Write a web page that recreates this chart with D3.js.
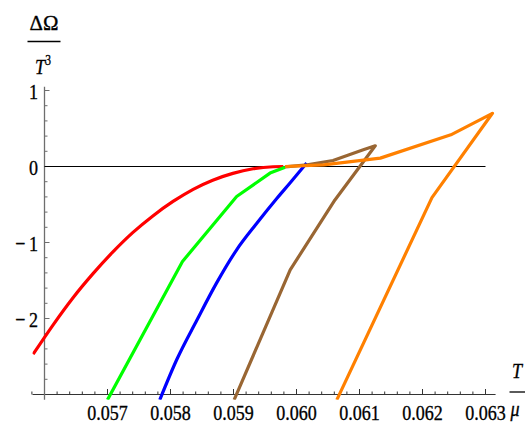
<!DOCTYPE html>
<html>
<head>
<meta charset="utf-8">
<script src="https://cdn.jsdelivr.net/npm/d3@7"></script>
<style>
  body { margin: 0; background: #fff; }
  svg text { font-family: "Liberation Serif", "Times New Roman", serif; fill: #000; stroke: #000; stroke-width: 0.35px; }
</style>
</head>
<body>
<div id="chart"></div>
<script>
// data (T/mu, dOmega/T^3)
var xTicks = [0.057, 0.058, 0.059, 0.060, 0.061, 0.062, 0.063];
var xTickLabels = ["0.057", "0.058", "0.059", "0.060", "0.061", "0.062", "0.063"];
var yTicks = [-2, -1, 0, 1];
var yTickLabels = ["\u2212\u20092", "\u2212\u20091", "0", "1"];

var redT = [0.05582, 0.05614, 0.05645, 0.05677, 0.05709, 0.05740, 0.05772, 0.05804, 0.05836, 0.05867, 0.05899, 0.05931, 0.05963, 0.05979];
var redY = [-2.47, -2.08, -1.73, -1.41, -1.12, -0.87, -0.65, -0.46, -0.30, -0.18, -0.09, -0.03, -0.003, 0.0];

var greenT = [0.05700, 0.05819, 0.05905, 0.05958, 0.05982];
var greenY = [-3.07, -1.25, -0.395, -0.087, -0.01];

var blueT = [0.05783, 0.05810, 0.05842, 0.05873, 0.05905, 0.05937, 0.05969, 0.05990, 0.06016];
var blueY = [-3.07, -2.54, -2.02, -1.535, -1.096, -0.747, -0.418, -0.214, 0.045];

var brownT = [0.05901, 0.05990, 0.06061, 0.06125, 0.06106, 0.06058, 0.06017, 0.05982];
var brownY = [-3.07, -1.36, -0.44, 0.272, 0.22, 0.079, 0.022, -0.004];

var orangeT = [0.06064, 0.06215, 0.06311, 0.06245, 0.06133, 0.06043, 0.05982];
var orangeY = [-3.07, -0.41, 0.70, 0.417, 0.11, 0.022, 0.0];

var series = [
  {t: redT, y: redY, color: "#ff0000", smooth: true},
  {t: greenT, y: greenY, color: "#00ff00", smooth: false},
  {t: blueT, y: blueY, color: "#0000ff", smooth: true},
  {t: brownT, y: brownY, color: "#996633", smooth: false},
  {t: orangeT, y: orangeY, color: "#ff8000", smooth: false}
];

var W = 527, H = 423;

var x = d3.scaleLinear().domain([0.056, 0.063]).range([44.5, 485.5]);
var y = d3.scaleLinear().domain([-3, 1]).range([394.5, 90.5]);

// plot range is a bit wider than the axes
var xMin = 0.05581, xMax = 0.06316;
var yMin = -3.07, yMax = 1.05;

// the picture's text is a little taller than it is wide
var squeeze = 0.82;

var svg = d3.select("#chart").append("svg")
  .attr("width", W)
  .attr("height", H);

svg.append("defs").append("clipPath")
  .attr("id", "clip")
  .append("rect")
  .attr("x", x(xMin))
  .attr("y", y(yMax))
  .attr("width", x(xMax) - x(xMin))
  .attr("height", y(yMin) - y(yMax));

// axes
var axisColor = "#6e6e6e";

svg.append("line")
  .attr("x1", x(xMin)).attr("x2", x(xMax))
  .attr("y1", y(-3)).attr("y2", y(-3))
  .attr("stroke", "#333").attr("stroke-width", 1);

svg.append("line")
  .attr("x1", x(0.056)).attr("x2", x(0.056))
  .attr("y1", y(yMin)).attr("y2", y(yMax))
  .attr("stroke", axisColor).attr("stroke-width", 1.3);

// x ticks (pointing up)
var xMinor = d3.range(0, 37).map(function(i) { return 0.0558 + i * 0.0002; })
  .filter(function(v) { return v <= xMax && Math.abs(v - 0.056) > 1e-7; });

svg.append("g").selectAll("line")
  .data(xMinor)
  .enter().append("line")
  .attr("x1", function(d) { return x(d); })
  .attr("x2", function(d) { return x(d); })
  .attr("y1", y(-3))
  .attr("y2", function(d) {
    var major = xTicks.some(function(t) { return Math.abs(t - d) < 1e-7; });
    return y(-3) - (major ? 5.5 : 3);
  })
  .attr("stroke", "#333");

svg.append("g").selectAll("text")
  .data(xTicks)
  .enter().append("text")
  .text(function(d, i) { return xTickLabels[i]; })
  .attr("transform", function(d) { return "translate(" + x(d) + ",420) scale(" + squeeze + ",1)"; })
  .attr("text-anchor", "middle")
  .style("font-size", "22px");

// y ticks (pointing right)
var yMinor = d3.range(0, 21).map(function(i) { return -3 + i * 0.2; })
  .filter(function(v) { return v > -2.99; });

svg.append("g").selectAll("line")
  .data(yMinor)
  .enter().append("line")
  .attr("x1", x(0.056))
  .attr("x2", function(d) {
    var major = Math.abs(d - Math.round(d)) < 1e-6;
    return x(0.056) + (major ? 5 : 3);
  })
  .attr("y1", function(d) { return y(d); })
  .attr("y2", function(d) { return y(d); })
  .attr("stroke", axisColor);

svg.append("g").selectAll("text")
  .data(yTicks)
  .enter().append("text")
  .text(function(d, i) { return yTickLabels[i]; })
  .attr("transform", function(d) { return "translate(38," + (y(d) + 8) + ") scale(" + squeeze + ",1)"; })
  .attr("text-anchor", "end")
  .style("font-size", "22px");

// zero line
svg.append("line")
  .attr("x1", x(0.056)).attr("x2", x(0.063))
  .attr("y1", y(0)).attr("y2", y(0))
  .attr("stroke", "#000").attr("stroke-width", 1);

// curves
var plot = svg.append("g").attr("clip-path", "url(#clip)");

series.forEach(function(s) {
  var pts = s.t.map(function(t, i) { return [t, s.y[i]]; });
  var line = d3.line()
    .x(function(d) { return x(d[0]); })
    .y(function(d) { return y(d[1]); })
    .curve(s.smooth ? d3.curveMonotoneX : d3.curveLinear);
  plot.append("path")
    .attr("d", line(pts))
    .attr("fill", "none")
    .attr("stroke", s.color)
    .attr("stroke-width", 3.2)
    .attr("stroke-linejoin", "round");
});

// axis labels as fractions
var yl = svg.append("g").attr("transform", "translate(44,0)");
yl.append("text").text("\u0394\u03a9")
  .attr("transform", "translate(0,29.5) scale(0.95,1)")
  .attr("text-anchor", "middle")
  .style("font-size", "22px");
yl.append("line").attr("x1", -16.5).attr("x2", 16.5)
  .attr("y1", 41.5).attr("y2", 41.5).attr("stroke", "#000").attr("stroke-width", 1.3);
var t3 = yl.append("text")
  .attr("transform", "translate(-1,74) scale(" + squeeze + ",1)")
  .attr("text-anchor", "middle")
  .style("font-size", "22px");
t3.append("tspan").text("T").style("font-style", "italic");
t3.append("tspan").text("3").attr("dy", -9).style("font-size", "14px");

var xl = svg.append("g").attr("transform", "translate(517,0)");
xl.append("text").text("T")
  .attr("transform", "translate(0,378) scale(" + squeeze + ",1)")
  .attr("text-anchor", "middle")
  .style("font-size", "22px").style("font-style", "italic");
xl.append("line").attr("x1", -7.5).attr("x2", 8)
  .attr("y1", 392).attr("y2", 392).attr("stroke", "#000").attr("stroke-width", 1.3);
xl.append("text").text("\u03bc")
  .attr("transform", "translate(-2,416) scale(" + squeeze + ",1)")
  .attr("text-anchor", "middle")
  .style("font-size", "22px").style("font-style", "italic");
</script>
</body>
</html>
